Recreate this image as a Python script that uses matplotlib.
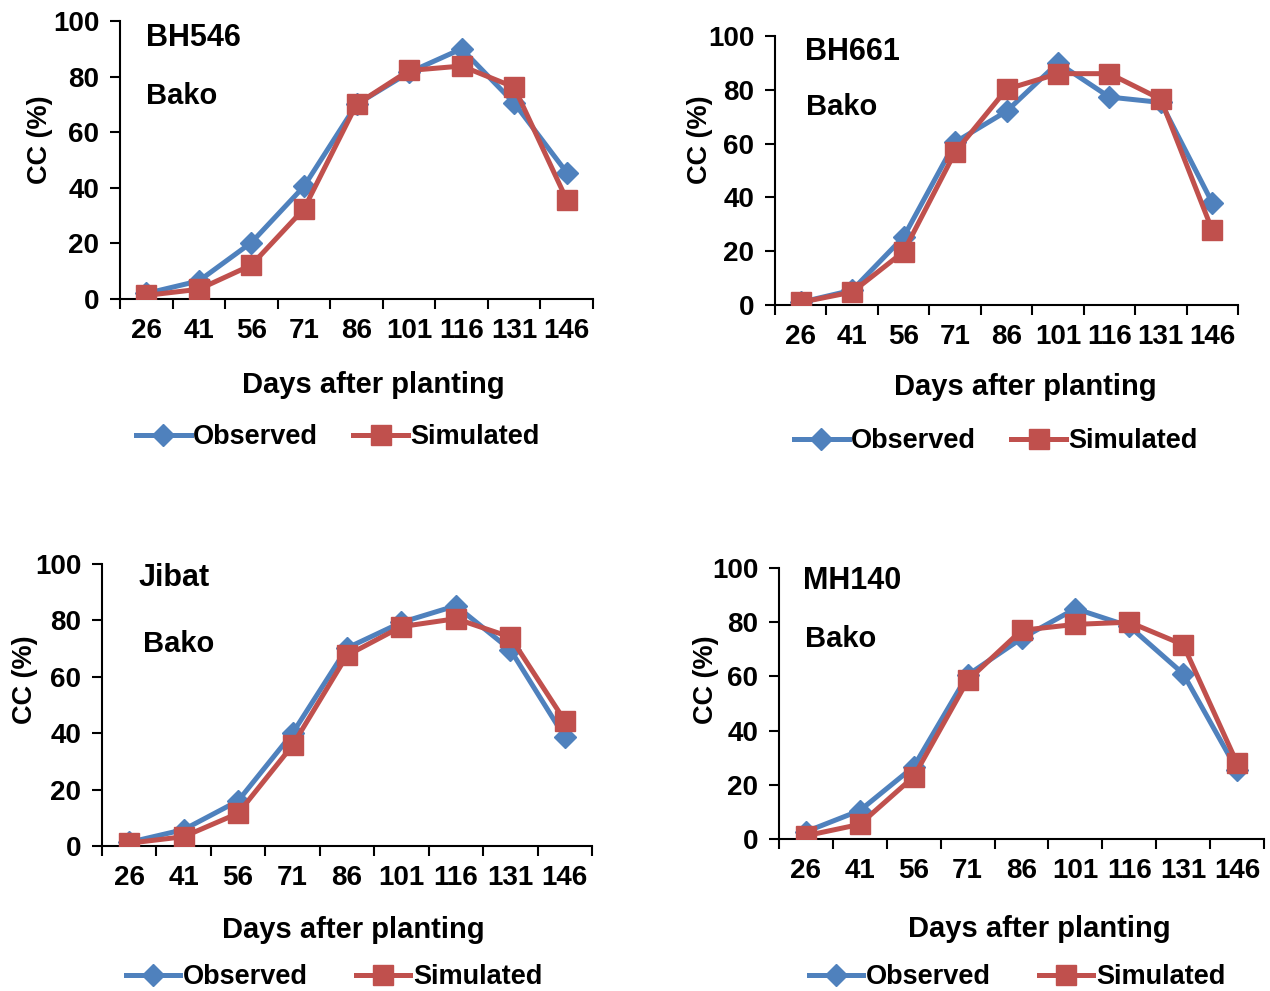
import numpy as np
import matplotlib
matplotlib.use('Agg')
import matplotlib.pyplot as plt
from matplotlib.ticker import FixedLocator, NullFormatter, FixedFormatter

plt.rcParams['font.family'] = ['Liberation Sans', 'DejaVu Sans']
plt.rcParams['font.weight'] = 'bold'

# 种植后天数
days = [26, 41, 56, 71, 86, 101, 116, 131, 146]

# 各品种冠层覆盖度 CC (%)
bh546_obs = [2, 6.5, 20.3, 40.5, 70, 81.5, 90, 70.5, 45.5]
bh546_sim = [1.3, 3.5, 12.2, 32.4, 70, 82.2, 83.8, 76.2, 35.7]
bh661_obs = [1, 5.5, 25.3, 60.5, 72, 90, 77.3, 75.3, 38]
bh661_sim = [1, 4.8, 19.8, 56.8, 80.2, 86, 86, 76.5, 27.8]
jibat_obs = [1.3, 5.8, 16, 40, 70.2, 79.3, 85.2, 69.6, 38.6]
jibat_sim = [1, 3.3, 11.6, 35.7, 67.6, 77.8, 80.6, 74.1, 44.4]
mh140_obs = [2.7, 10.5, 26.7, 60.5, 74, 85, 78.5, 61, 25.5]
mh140_sim = [1.2, 5.4, 23, 58.5, 77, 79.2, 80, 71.7, 28]

varieties = ['BH546', 'BH661', 'Jibat', 'MH140']
site = 'Bako'

W, H = 1270, 991
blue = '#4F81BD'
red = '#C0504D'

# 每个子图的像素位置: 左, 右, 上, 下
boxes = [(120, 593, 21, 299), (775, 1238, 36, 305),
         (102, 592, 564, 846), (779, 1264, 568, 839)]
# 品种名和地点的像素位置 (左边界, 纵向中心)
name_pos = [((146, 38), (146, 96)), ((805, 52), (806, 107)),
            ((139, 578), (143, 644)), ((803, 581), (805, 639))]
ylab_pos = [(40, 140), (700, 140), (25, 680), (706, 680)]
xlab_pos = [(373, 385), (1025, 387), (353, 930), (1039, 929)]
leg_pos = [(338, 437, 1.3), (996, 441, 1.3), (334, 977, 1.8), (1017, 977, 1.8)]
series = [(bh546_obs, bh546_sim), (bh661_obs, bh661_sim),
          (jibat_obs, jibat_sim), (mh140_obs, mh140_sim)]


def px(xp, yp):
    return xp / W, 1 - yp / H


fig = plt.figure(figsize=(W / 100, H / 100), dpi=100)

x = np.arange(len(days))
for i in range(4):
    l, r, t, b = boxes[i]
    ax = fig.add_axes([l / W, 1 - b / H, (r - l) / W, (b - t) / H])
    obs, sim = series[i]
    ax.plot(x, obs, color=blue, lw=3.6, marker='D', markersize=11,
            label='Observed', zorder=3)
    ax.plot(x, sim, color=red, lw=3.6, marker='s', markersize=15,
            label='Simulated', zorder=4)
    ax.set_xlim(-0.5, len(days) - 0.5)
    ax.set_ylim(0, 100)
    ax.set_yticks([0, 20, 40, 60, 80, 100])
    ax.xaxis.set_major_locator(FixedLocator(np.arange(-0.5, len(days), 1.0)))
    ax.xaxis.set_major_formatter(NullFormatter())
    ax.xaxis.set_minor_locator(FixedLocator(x))
    ax.xaxis.set_minor_formatter(FixedFormatter([str(d) for d in days]))
    ax.tick_params(axis='x', which='major', direction='out', length=7, width=1.5)
    ax.tick_params(axis='x', which='minor', length=0, pad=14, labelsize=20)
    ax.tick_params(axis='y', direction='out', length=7, width=1.5, pad=8, labelsize=20)
    for s in ['top', 'right']:
        ax.spines[s].set_visible(False)
    for s in ['left', 'bottom']:
        ax.spines[s].set_linewidth(1.5)
    for lab in ax.get_xticklabels(minor=True) + ax.get_yticklabels():
        lab.set_fontweight('bold')

    (n1, n2) = name_pos[i]
    fig.text(*px(*n1), varieties[i], fontsize=22, fontweight='bold',
             va='center', ha='left')
    fig.text(*px(*n2), site, fontsize=21, fontweight='bold',
             va='center', ha='left')

    fig.text(*px(*ylab_pos[i]), 'CC (%)', rotation=90, fontsize=19.5,
             fontweight='bold', ha='center', va='center')
    fig.text(*px(*xlab_pos[i]), 'Days after planting', fontsize=21,
             fontweight='bold', ha='center', va='center')

    lx, ly, cs = leg_pos[i]
    ax.legend(loc='center', bbox_to_anchor=px(lx, ly),
              bbox_transform=fig.transFigure, ncol=2, frameon=False,
              handlelength=2.0, handletextpad=0.1, columnspacing=cs,
              prop={'weight': 'bold', 'size': 19.5})

fig.savefig('out.png', dpi=100)
